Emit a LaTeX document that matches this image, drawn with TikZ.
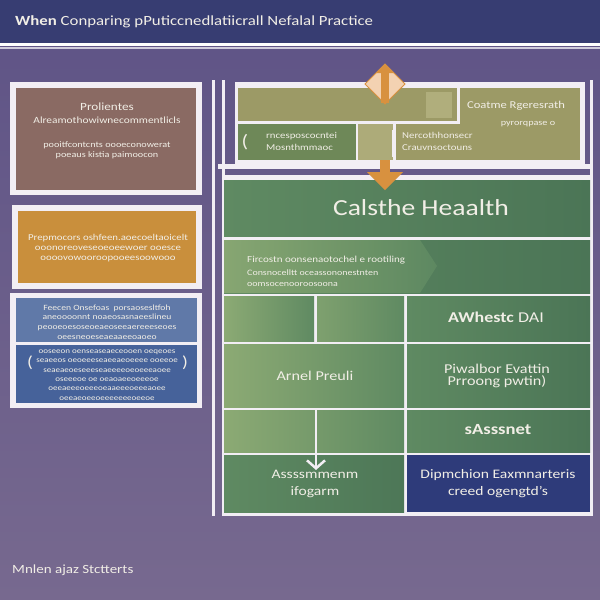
\documentclass[tikz,border=0pt]{standalone}
\usepackage{fontspec}
\setmainfont{Carlito}[FakeStretch=1.2]
\usetikzlibrary{arrows.meta}
\definecolor{bgtop}{HTML}{5E5386}
\definecolor{bgbot}{HTML}{77698F}
\definecolor{navy}{HTML}{373D72}
\definecolor{frm}{HTML}{F2EEF4}
\definecolor{brownbox}{HTML}{8A6A63}
\definecolor{orangebox}{HTML}{C98F3C}
\definecolor{blueA}{HTML}{6079A8}
\definecolor{blueB}{HTML}{46629A}
\definecolor{olive}{HTML}{9C9A66}
\definecolor{oliveL}{HTML}{B0AE7C}
\definecolor{oliveG}{HTML}{6E8858}
\definecolor{gL}{HTML}{8CAA74}
\definecolor{gM}{HTML}{5F8A62}
\definecolor{gD}{HTML}{4B7556}
\definecolor{darkblue}{HTML}{2E3B7A}
\definecolor{arrowor}{HTML}{D8913F}
\definecolor{peach}{HTML}{F3D2B2}
\definecolor{txt}{HTML}{F1EEE6}
\tikzset{
  tx/.style={text=txt, inner sep=0pt, align=center},
  txl/.style={text=txt, inner sep=0pt, align=left, anchor=west},
  cellL/.style={left color=gL, right color=gM},
  cellR/.style={left color=gM, right color=gD},
}
\newcommand{\fs}[2]{\fontsize{#1}{#2}\selectfont}
\begin{document}
\begin{tikzpicture}[x=1pt,y=-1pt]
\useasboundingbox (0,0) rectangle (600,600);
% background
\shade[top color=bgtop, bottom color=bgbot] (0,0) rectangle (600,600);
\fill[navy] (0,0) rectangle (600,43);
\fill[white] (0,43) rectangle (600,46);
\fill[white!70!bgtop] (0,47) rectangle (600,49);
\node[txl, font=\fs{14}{14}] (title) at (15,22) {\textbf{When} Conparing pPuticcnedlatiicrall Nefalal Practice};

% left column
\fill[frm] (10,82) rectangle (202,195);
\fill[brownbox] (16,88) rectangle (196,190);
\node[tx, font=\fs{11}{11}] (b1a) at (107,107) {Prolientes};
\node[tx, font=\fs{9.5}{9.5}] (b1b) at (107,120) {Alreamothowiwnecommentlicls};
\node[tx, font=\fs{8.5}{10}] (b1c) at (107,150) {pooitfcontcnts oooeconowerat\\poeaus kistia paimoocon};

\fill[frm] (12,205) rectangle (202,289);
\fill[orangebox] (18,211) rectangle (196,283);
\node[tx, font=\fs{9}{10}] (b2) at (108,248) {Prepmocors oshfeen.aoecoeltaoicelt\\ooonoreoveseoeoeewoer ooesce\\oooovowooroopooeesoowooo};

\fill[frm] (10,293) rectangle (202,408);
\fill[blueA] (16,298) rectangle (197,342);
\fill[blueB] (16,345) rectangle (197,403);
\node[tx, font=\fs{8}{9.7}] (b3a) at (107,322) {Feecen Onsefoas \ porsaosesltfoh\\aneoooonnt noaeosasnaeeslineu\\peooeoesoseoeaeoseeaereeeseoes\\oeesneoeseaeaaeeoaoeo};
\node[tx, font=\fs{7.5}{9.4}] (b3b) at (107,375) {ooseeon oenseaseaeceooen oeqeoes\\seaeeos oeoeeeseaeeaeoeeee ooeeoe\\seaeaeoeseeeseaeeeeoeoeeeaoee\\oseeeoe oe oeaoaeeoeeeoe\\oeeaeeeoeeeoeaaeeeoeeeaoee\\oeeaeoeeoeeeeeeeoeeoe};
\node[tx, font=\fs{16}{16}] (parL) at (30,363) {(};
\node[tx, font=\fs{16}{16}] (parR) at (185,363) {)};

% right structure verticals
\fill[frm] (212,80) rectangle (215,516);
\fill[frm] (222,80) rectangle (225,516);
\fill[frm] (590,80) rectangle (593,516);

% olive block
\fill[frm] (235,82) rectangle (585,164);
\fill[olive] (238,88) rectangle (457,121);
\fill[olive] (460,88) rectangle (580,160);
\fill[oliveG] (238,124) rectangle (356,160);
\fill[oliveL!85!olive] (358,124) rectangle (393,160);
\fill[olive] (396,124) rectangle (458,160);
\fill[olive] (456,124) rectangle (520,160);
\fill[oliveL] (426,92) rectangle (452,118);
\fill[frm] (392,130) rectangle (394,157);
\node[tx, font=\fs{10.5}{10.5}] (ca) at (516,106) {Coatme Rgeresrath};
\node[tx, font=\fs{8.5}{8.5}] (cb) at (528,124) {pyrorqpase o};
\node[tx, font=\fs{18}{18}] (brk) at (245,142) {(};
\node[txl, font=\fs{9}{12}] (cl) at (266,141) {rncesposcocntei\\Mosnthmmaoc};
\node[txl, font=\fs{9}{12}] (cm) at (402,141) {Nercothhonsecr\\Crauvnsoctouns};

% white band
\fill[frm] (218,164) rectangle (593,169);
\fill[frm] (222,175) rectangle (593,178);

% lower grid frame
\fill[frm] (222,177) rectangle (593,516);
\shade[left color=gM, right color=gD] (224,180) rectangle (590,236);
\node[tx, font=\fs{23}{23}] (head) at (421,208) {Calsthe Heaalth};

\shade[left color=gM!90!gD, right color=gD] (224,240) rectangle (590,293);
\shade[left color=gL, right color=gM, opacity=0.9] (224,240) -- (420,240) -- (437,266) -- (420,293) -- (224,293) -- cycle;
\node[txl, font=\fs{9.2}{9.2}] (r2a) at (247,260) {Fircostn oonsenaotochel e rootiling};
\node[txl, font=\fs{8.3}{11}] (r2b) at (247,278) {Consnocelltt oceassononestnten\\oomsocenooroosoona};

\shade[cellL] (224,296) rectangle (314,341);
\shade[left color=gL!70!gM, right color=gM] (317,296) rectangle (404,341);
\shade[cellR] (407,296) rectangle (590,341);
\node[tx, font=\fs{15}{15}] (r3) at (496,317) {\textbf{AWhestc} DAI};

\shade[cellL] (224,344) rectangle (404,407);
\shade[cellR] (407,344) rectangle (590,407);
\node[tx, font=\fs{13.5}{13.5}] (r4a) at (315,376) {Arnel Preuli};
\node[tx, font=\fs{13.5}{12}] (r4b) at (497,376) {Piwalbor Evattin\\Prroong pwtin)};

\shade[cellL] (224,410) rectangle (404,452);
\shade[cellR] (407,410) rectangle (590,452);
\node[tx, font=\fs{15.5}{15.5}] (r5) at (498,430) {\textbf{sAsssnet}};

\shade[left color=gM, right color=gD!90!gM] (224,455) rectangle (404,512);
\fill[darkblue] (407,455) rectangle (590,512);
\node[tx, font=\fs{13}{17}] (r6a) at (315,484) {Assssmmenm\\ifogarm};
\node[tx, font=\fs{13}{17}] (r6b) at (498,484) {Dipmchion Eaxmnarteris\\creed ogengtd's};

% white down arrow in grid
\coordinate (aTop) at (316,410);
\draw[frm, line width=2.5pt, -{Straight Barb[length=8pt,width=18pt,line width=2.5pt]}] (aTop) -- (r6a.north -| aTop);

% orange arrows
\fill[peach, draw=arrowor, line width=1pt] (385,64) -- (405,84) -- (385,104) -- (365,84) -- cycle;
\fill[arrowor] (381,70) rectangle (389,103);
\fill[arrowor] (385,64) -- (394,73) -- (376,73) -- cycle;
\fill[arrowor] (380,160) rectangle (390,174);
\fill[arrowor] (367,172) -- (403,172) -- (385,190) -- cycle;

% bottom label
\node[txl, font=\fs{12.5}{12.5}] (foot) at (12,570) {Mnlen ajaz Stctterts};
\end{tikzpicture}
\end{document}
